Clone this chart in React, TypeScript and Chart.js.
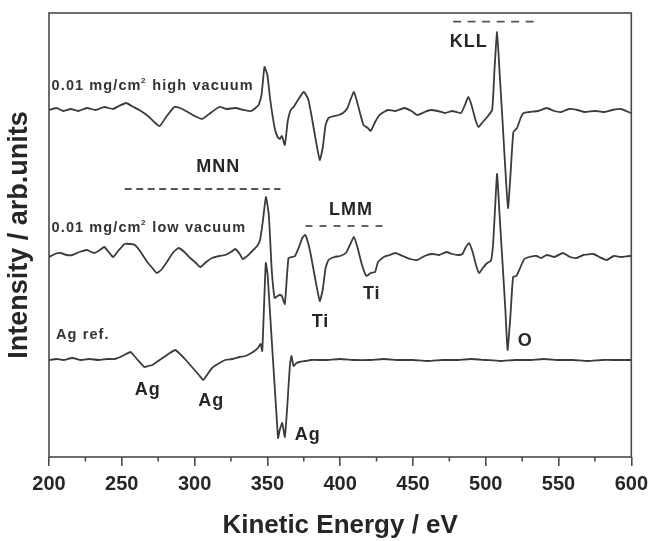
import { useEffect, useRef } from 'react';
import { Chart, registerables } from 'chart.js';

Chart.register(...registerables);

const FONT = '"Liberation Sans", Arial, Helvetica, sans-serif';
const INK = '#3b3b3b';
const AXIS = '#4a4a4a';
const TEXT = '#262626';

// Kinetic energy axis (eV)
const X_MIN = 200;
const X_MAX = 600;
const xTickStep = 25;
const xLabelStep = 50;

// 0.01 mg/cm² sample, high vacuum: derivative Auger signal (arb. units)
const highVacuumEnergy = [200, 205, 210, 215, 220, 226, 232, 238, 244, 248, 253, 258, 262, 268, 273, 276, 280, 286, 290, 294, 300, 305, 310, 317, 322, 328, 334, 339, 344, 346, 348, 350, 352, 355, 357, 358.5, 360, 362, 364, 366, 368, 371, 375, 378, 380, 383, 386, 388, 390, 392, 396, 399, 402, 405, 407, 409.5, 412, 416, 419, 421, 424, 427, 430, 433, 438, 444, 449, 453, 458, 462, 467, 472, 477, 483, 486, 488, 490, 493, 495, 498, 501, 504.4, 506, 507.8, 509.5, 511.5, 513.5, 515.3, 517, 519, 521.5, 524, 526, 530, 536, 542, 547, 552, 557, 563, 568, 575, 581, 587, 593, 598, 600];
const highVacuumSignal = [1, 3, 0, 2, 0, 3, 1, 4, 2, 5, 8, 4, 1, -5, -12, -15, -7, 4, 3, 0, -5, -8, -3, 4, 2, 3, 1, 0, 6, 16, 44, 36, 11, -17, -26, -28, -25, -34, -10, 1, 4, 11, 19, 12, -2, -27, -49, -37, -14, -7, -5, -4, -2, 3, 11, 19, 7, -14, -17, -20, -11, -4, -1, 1, 0, 3, 0, -4, -1, 1, 0, -2, 0, -2, 7, 14, 7, -9, -16, -11, -6, 1, 41, 79, 39, -9, -59, -97, -64, -21, -17, -7, -2, -1, 0, 3, 0, -1, 2, 1, -1, 0, -1, 1, 2, -1, -2];
const highVacuumOffset = 346;

// 0.01 mg/cm² sample, low vacuum
const lowVacuumEnergy = [200, 204, 208, 212, 216, 221, 226, 231, 235, 238, 241, 244, 248, 252, 256, 259, 263, 267, 271, 274, 277, 281, 285, 289, 293, 297, 301, 304, 308, 312, 317, 321, 325, 328, 331, 333, 337, 341, 343, 345, 347, 349, 351, 353, 355, 357, 358.5, 360, 362, 364.5, 367, 369, 372, 374, 376, 378, 380, 383, 386, 388, 390, 392, 396, 400, 404, 407, 409.5, 412, 415, 418, 421, 424, 426, 430, 434, 438, 443, 448, 453, 458, 463, 468, 473, 477, 481, 484, 486, 488.5, 491, 493.5, 495.5, 498, 501, 503.5, 505, 506.5, 507.8, 509.5, 511.5, 513.5, 515, 517, 518.8, 521, 523, 526.5, 530, 535, 538, 542, 547, 553, 558, 562.5, 567, 574, 578, 583, 588, 593, 598.6, 600];
const lowVacuumSignal = [-1, 2, 3, 1, 1, 4, 6, 3, 6, 9, 4, -1, 6, 12, 12, 11, 4, -5, -12, -17, -14, -6, 3, 8, 4, -2, -7, -11, -6, -2, 0, 1, 4, 7, 2, -3, 1, 7, 10, 16, 36, 59, 41, -14, -42, -40, -39, -40, -48, -2, -1, 0, 10, 18, 21, 13, 0, -24, -45, -34, -12, -4, -1, 0, 3, 12, 19, 8, -9, -20, -17, -16, -6, -1, 1, 3, 0, -3, -4, 0, 2, 1, 4, 2, 1, 2, 8, 13, 4, -10, -17, -12, -7, -5, 11, 50, 82, 41, -6, -54, -94, -59, -21, -20, -14, -3, -1, 0, -2, 1, -1, 3, -1, -2, 1, 2, -1, -4, 0, -1, 0, 0];
const lowVacuumOffset = 201;

// Silver reference
const agRefEnergy = [200, 205, 210, 216, 222, 228, 234, 240, 245, 249, 253, 256, 258, 261, 265.5, 268, 271, 275, 279, 283, 286.7, 290, 294, 297, 300, 303, 306, 309, 312, 316, 321, 326, 331, 335, 339, 342, 343.5, 345.4, 346.5, 348.9, 350.2, 357.3, 358.5, 360.2, 362, 363.5, 365.5, 366.6, 368, 370, 372, 376, 380, 390, 400, 410, 420, 430, 440, 450, 460, 470, 480, 490, 500, 510, 520, 530, 540, 550, 560, 570, 580, 590, 600];
const agRefSignal = [0, 1, 0, 2, 0, 1, 0, 1, 1, 3, 6, 8, 5, 0, -7, -6, -5, -1, 3, 7, 10, 6, 0, -5, -10, -15, -20, -14, -8, -4, 0, 1, 3, 4, 7, 10, 12, 16, 9, 97, 85, -78, -70, -63, -77, -50, -5, 4, -6, -3, -2, -1, 0, 0, 1, 0, 0, 1, 0, 0, -1, 0, 0, 1, 0, -1, 0, 0, 1, 0, 0, -1, 0, 0, 0];
const agRefOffset = 97;

const Y_MAX = 444;

// Text placed in data coordinates (eV, arb. units)
type Label = { text: string; e: number; v: number };
const peakLabels: Label[] = [
  { text: 'MNN', e: 316.2, v: 290 },
  { text: 'LMM', e: 407.5, v: 247 },
  { text: 'KLL', e: 488.4, v: 414.5 },
  { text: 'Ti', e: 386.5, v: 134.5 },
  { text: 'Ti', e: 421.7, v: 163 },
  { text: 'O', e: 527.2, v: 116 },
  { text: 'Ag', e: 267.9, v: 67 },
  { text: 'Ag', e: 311.5, v: 56 },
  { text: 'Ag', e: 377.8, v: 22 },
];

type Series = { pre: string; sup: string; post: string; e: number; v: number };
const seriesLabels: Series[] = [
  { pre: '0.01 mg/cm', sup: '2', post: ' high vacuum', e: 201.8, v: 371.3 },
  { pre: '0.01 mg/cm', sup: '2', post: ' low vacuum', e: 201.8, v: 229.5 },
  { pre: 'Ag ref.', sup: '', post: '', e: 204.8, v: 122 },
];

type Group = { from: number; to: number; v: number; dash: number[] };
const groupLines: Group[] = [
  { from: 252, to: 359, v: 268, dash: [7, 4.5] },
  { from: 376.2, to: 431.1, v: 231, dash: [7, 7] },
  { from: 477.6, to: 533.5, v: 435.3, dash: [8, 6.5] },
];

function toPoints(energy: number[], signal: number[], offset: number) {
  return energy.map((x, i) => ({ x, y: signal[i] + offset }));
}

const annotationPlugin = {
  id: 'augerAnnotations',
  afterDatasetsDraw(chart: any) {
    const { ctx, scales } = chart;
    const x = scales.x;
    const y = scales.y;
    ctx.save();
    // group markers
    ctx.strokeStyle = '#555555';
    ctx.lineWidth = 1.8;
    for (const g of groupLines) {
      ctx.setLineDash(g.dash);
      ctx.beginPath();
      const py = y.getPixelForValue(g.v);
      ctx.moveTo(x.getPixelForValue(g.from), py);
      ctx.lineTo(x.getPixelForValue(g.to), py);
      ctx.stroke();
    }
    ctx.setLineDash([]);
    // peak labels
    ctx.fillStyle = TEXT;
    ctx.textBaseline = 'middle';
    ctx.textAlign = 'center';
    (ctx as any).letterSpacing = '1px';
    ctx.font = `bold 18px ${FONT}`;
    for (const l of peakLabels) {
      ctx.fillText(l.text, x.getPixelForValue(l.e), y.getPixelForValue(l.v));
    }
    // series names
    ctx.textAlign = 'left';
    ctx.fillStyle = '#333333';
    (ctx as any).letterSpacing = '1.1px';
    for (const s of seriesLabels) {
      let cx = x.getPixelForValue(s.e);
      const cy = y.getPixelForValue(s.v);
      ctx.font = `bold 14.5px ${FONT}`;
      ctx.fillText(s.pre, cx, cy);
      cx += ctx.measureText(s.pre).width;
      if (s.sup) {
        ctx.font = `bold 8px ${FONT}`;
        ctx.fillText(s.sup, cx - 0.5, cy - 4.5);
        cx += ctx.measureText(s.sup).width;
        ctx.font = `bold 14.5px ${FONT}`;
      }
      if (s.post) ctx.fillText(s.post, cx, cy);
    }
    ctx.restore();
  },
};

const framePlugin = {
  id: 'frameAndMinorTicks',
  afterDraw(chart: any) {
    const { ctx, chartArea: a, scales } = chart;
    const x = scales.x;
    ctx.save();
    ctx.strokeStyle = AXIS;
    ctx.lineWidth = 1.6;
    ctx.strokeRect(a.left, a.top, a.right - a.left, a.bottom - a.top);
    for (const t of x.ticks) {
      if (t.value % xLabelStep !== 0) {
        const px = x.getPixelForValue(t.value);
        ctx.beginPath();
        ctx.moveTo(px, a.bottom);
        ctx.lineTo(px, a.bottom + 4.5);
        ctx.stroke();
      }
    }
    ctx.restore();
  },
};

export default function App() {
  const canvasRef = useRef<HTMLCanvasElement | null>(null);

  useEffect(() => {
    const canvas = canvasRef.current;
    if (!canvas) return;
    const line = {
      borderColor: INK,
      borderWidth: 1.8,
      pointRadius: 0,
      tension: 0.15,
      fill: false,
    };
    const chart = new Chart(canvas, {
      type: 'line',
      data: {
        datasets: [
          { ...line, label: 'high vacuum', data: toPoints(highVacuumEnergy, highVacuumSignal, highVacuumOffset) },
          { ...line, label: 'low vacuum', data: toPoints(lowVacuumEnergy, lowVacuumSignal, lowVacuumOffset) },
          { ...line, label: 'Ag ref.', data: toPoints(agRefEnergy, agRefSignal, agRefOffset) },
        ],
      },
      options: {
        animation: false,
        responsive: false,
        maintainAspectRatio: false,
        layout: { padding: { top: 13, right: 20, left: 0, bottom: 0 } },
        plugins: { legend: { display: false }, tooltip: { enabled: false } },
        scales: {
          x: {
            type: 'linear',
            min: X_MIN,
            max: X_MAX,
            border: { display: false },
            grid: {
              drawOnChartArea: false,
              drawTicks: true,
              tickLength: 9,
              lineWidth: 1.6,
              tickColor: (c: any) => (c.tick && c.tick.value % xLabelStep === 0 ? AXIS : 'rgba(0,0,0,0)'),
            },
            ticks: {
              stepSize: xTickStep,
              autoSkip: false,
              maxRotation: 0,
              padding: 6,
              color: TEXT,
              font: { family: FONT, size: 20, weight: 'bold' },
              callback: (v: any) => (Number(v) % xLabelStep === 0 ? String(v) : ''),
            },
            title: {
              display: true,
              text: 'Kinetic Energy / eV',
              color: TEXT,
              font: { family: FONT, size: 26, weight: 'bold' },
              padding: { top: 0, bottom: 0 },
            },
            afterFit: (s: any) => {
              s.height = 84;
            },
          },
          y: {
            min: 0,
            max: Y_MAX,
            border: { display: false },
            grid: { display: false },
            ticks: { display: false },
            title: {
              display: true,
              text: 'Intensity / arb.units',
              color: TEXT,
              font: { family: FONT, size: 27, weight: 'bold' },
              padding: { top: 3, bottom: 0 },
            },
            afterFit: (s: any) => {
              s.width = 49;
            },
          },
        },
      },
      plugins: [framePlugin, annotationPlugin],
    } as any);
    return () => chart.destroy();
  }, []);

  return (
    <div style={{ position: 'absolute', left: 0, top: 0, width: 654, height: 541, background: '#ffffff' }}>
      <canvas ref={canvasRef} width={654} height={541} style={{ display: 'block' }} />
    </div>
  );
}
